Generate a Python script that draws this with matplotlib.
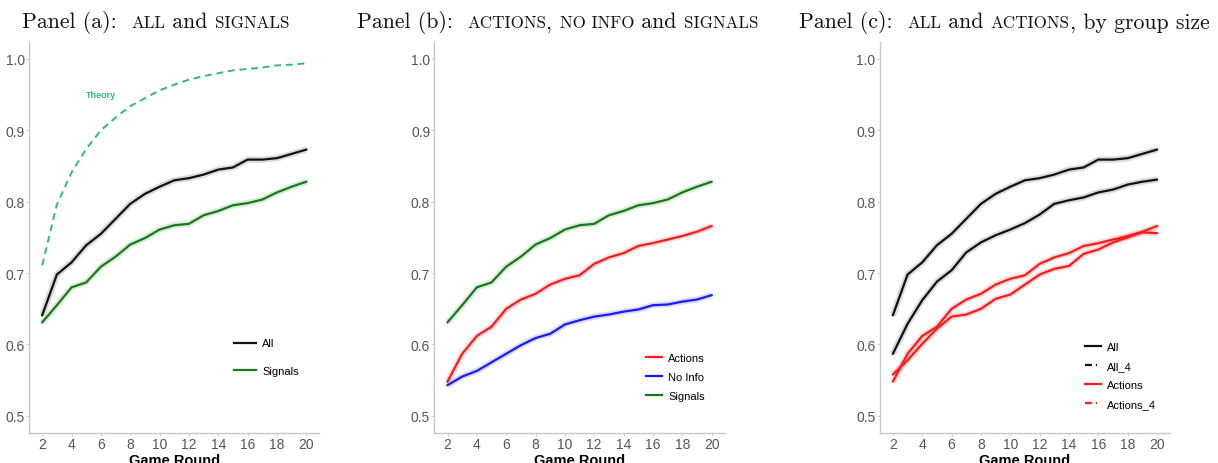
import matplotlib
matplotlib.use("Agg")
import matplotlib.pyplot as plt
from matplotlib.lines import Line2D

rounds = list(range(2, 21))

all_vals = [0.641, 0.698, 0.715, 0.739, 0.755, 0.776, 0.797, 0.811, 0.821, 0.830,
            0.833, 0.838, 0.845, 0.848, 0.859, 0.859, 0.861, 0.867, 0.873]
signals = [0.631, 0.655, 0.680, 0.687, 0.709, 0.723, 0.740, 0.749, 0.761, 0.767,
           0.769, 0.781, 0.787, 0.795, 0.798, 0.803, 0.813, 0.821, 0.828]
theory = [0.711, 0.796, 0.841, 0.874, 0.900, 0.918, 0.934, 0.945, 0.956, 0.964,
          0.971, 0.976, 0.980, 0.984, 0.986, 0.988, 0.991, 0.992, 0.994]
actions = [0.548, 0.587, 0.612, 0.625, 0.650, 0.663, 0.671, 0.684, 0.692, 0.697,
           0.713, 0.722, 0.728, 0.738, 0.742, 0.747, 0.752, 0.758, 0.766]
no_info = [0.543, 0.555, 0.563, 0.575, 0.587, 0.599, 0.609, 0.615, 0.628, 0.634,
           0.639, 0.642, 0.646, 0.649, 0.655, 0.656, 0.660, 0.663, 0.669]
all_4 = [0.587, 0.629, 0.662, 0.688, 0.704, 0.729, 0.743, 0.753, 0.761, 0.770,
         0.782, 0.797, 0.802, 0.806, 0.813, 0.817, 0.824, 0.828, 0.831]
actions_4 = [0.558, 0.578, 0.601, 0.622, 0.639, 0.642, 0.650, 0.664, 0.670, 0.684,
             0.698, 0.706, 0.710, 0.727, 0.733, 0.743, 0.750, 0.757, 0.756]

BLACK, GREEN, RED, BLUE = '#111111', '#1a7a1a', '#ff1a1a', '#1a1aff'
THEORY = '#33b877'
DASHDOT = (0, (3.1, 1.8, 0.5, 3))

W, H = 1218, 464
fig = plt.figure(figsize=(W / 100, H / 100), dpi=100)
lefts = [29 / W, 434.3 / W, 879.7 / W]
axes = [fig.add_axes([l, 0.0647, 0.2385, 0.843]) for l in lefts]


def draw(ax, y, color):
    ax.plot(rounds, y, color=color, lw=4.5, alpha=0.15, solid_capstyle='butt')
    ax.plot(rounds, y, color=color, lw=1.6)


def style(ax):
    ax.set_xlim(1.1, 20.9)
    ax.set_ylim(0.476, 1.024)
    ax.set_xticks(range(2, 21, 2))
    ax.set_yticks([0.5, 0.6, 0.7, 0.8, 0.9, 1.0])
    ax.set_yticklabels(['0.5', '0.6', '0.7', '0.8', '0.9', '1.0'])
    for s in ['top', 'right']:
        ax.spines[s].set_visible(False)
    for s in ['left', 'bottom']:
        ax.spines[s].set_color('#c8c8c8')
        ax.spines[s].set_linewidth(1.0)
    ax.tick_params(length=2, width=0.6, color='#c8c8c8', labelcolor='#555555',
                   labelsize=10, pad=1)
    for lab in ax.get_xticklabels() + ax.get_yticklabels():
        lab.set_family('Liberation Sans')
    ax.set_xlabel('Game Round', fontsize=10.5, fontweight='bold',
                  family='Liberation Sans', labelpad=1)


def legend(ax, handles, labels, loc, spacing, hlen):
    ax.legend(handles, labels, loc='upper left', bbox_to_anchor=loc, frameon=False,
              prop={'family': 'Liberation Sans', 'size': 8}, handlelength=hlen,
              handletextpad=0.55, labelspacing=spacing, borderaxespad=0)


# panel a
ax = axes[0]
draw(ax, all_vals, BLACK)
draw(ax, signals, GREEN)
ax.plot(rounds, theory, color=THEORY, lw=1.4, ls=(0, (3.5, 2.5)))
ax.text(6.0, 0.950, 'Theory', color=THEORY, fontsize=6.5, fontweight='bold',
        ha='center', va='center', family='Liberation Sans')
style(ax)
legend(ax, [Line2D([], [], color=BLACK, lw=1.6), Line2D([], [], color=GREEN, lw=1.6)],
       ['All', 'Signals'], (0.69, 0.253), 1.6, 2.0)

# panel b
ax = axes[1]
draw(ax, signals, GREEN)
draw(ax, actions, RED)
draw(ax, no_info, BLUE)
style(ax)
legend(ax, [Line2D([], [], color=c, lw=1.6) for c in (RED, BLUE, GREEN)],
       ['Actions', 'No Info', 'Signals'], (0.715, 0.215), 0.8, 1.4)

# panel c
ax = axes[2]
draw(ax, all_vals, BLACK)
draw(ax, all_4, BLACK)
draw(ax, actions, RED)
draw(ax, actions_4, RED)
style(ax)
legend(ax, [Line2D([], [], color=BLACK, lw=1.6),
            Line2D([], [], color=BLACK, lw=1.6, ls=DASHDOT),
            Line2D([], [], color=RED, lw=1.6),
            Line2D([], [], color=RED, lw=1.6, ls=DASHDOT)],
       ['All', 'All_4', 'Actions', 'Actions_4'], (0.693, 0.243), 0.8, 1.4)

# titles: small caps imitated with smaller capitals on a shared baseline
renderer = fig.canvas.get_renderer()


def title(x_px, parts):
    x = x_px
    for text, small in parts:
        t = fig.text(x / W, 1 - 28.3 / H, text, family='cmr10',
                     fontsize=12.2 if small else 15.7, color='#111111',
                     va='baseline', ha='left')
        x += t.get_window_extent(renderer).width


title(22, [('Panel (a):  ', False), ('ALL', True), (' and ', False), ('SIGNALS', True)])
title(357, [('Panel (b):  ', False), ('ACTIONS', True), (', ', False), ('NO INFO', True),
            (' and ', False), ('SIGNALS', True)])
title(799, [('Panel (c):  ', False), ('ALL', True), (' and ', False), ('ACTIONS', True),
            (', by group size', False)])

fig.savefig('out.png', dpi=100)
